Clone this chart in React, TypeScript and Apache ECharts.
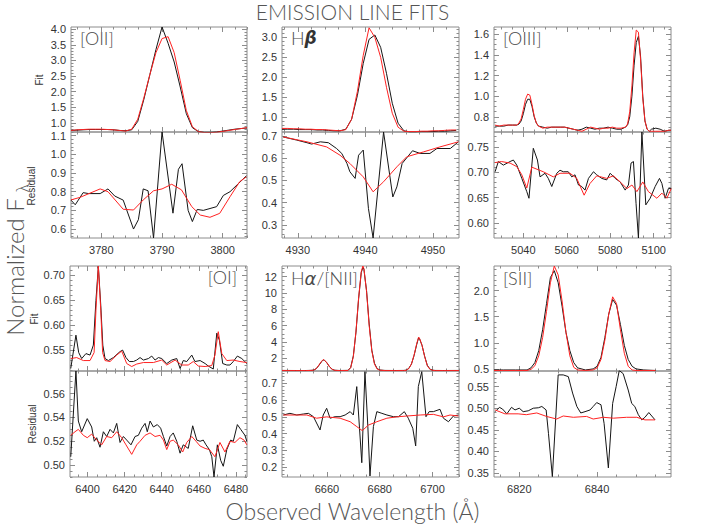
import React, { useEffect, useRef } from 'react';
import * as echarts from 'echarts';

// ---------------- DATA ----------------
// [OII]
const OII_FIT_X = [3775,3776,3777,3778,3779,3780,3781,3782,3783,3784,3785,3786,3787,3788,3789,3790,3791,3792,3793,3794,3795,3796,3797,3798,3799,3800,3801,3802,3803,3804];
const OII_FIT_OBS = [0.76,0.77,0.78,0.79,0.79,0.79,0.79,0.78,0.76,0.75,0.78,1.05,1.75,2.55,3.35,4.07,3.55,2.95,2.15,1.30,0.85,0.72,0.70,0.70,0.71,0.74,0.77,0.80,0.82,0.84];
const OII_FIT_MOD = [0.76,0.78,0.79,0.80,0.80,0.80,0.79,0.78,0.76,0.74,0.80,1.12,1.80,2.55,3.25,3.70,3.76,3.25,2.35,1.40,0.88,0.72,0.69,0.69,0.70,0.73,0.76,0.79,0.82,0.85];
const OII_RES_OBS_X = [3775.0,3775.7,3777.0,3777.9,3779.8,3781.1,3782.2,3783.6,3785.3,3786.1,3786.9,3787.7,3788.6,3790.0,3791.8,3792.7,3793.3,3794.3,3795.0,3795.8,3796.8,3799.0,3800.1,3801.2,3803.9];
const OII_RES_OBS = [0.755,0.73,0.795,0.79,0.79,0.815,0.777,0.755,0.60,0.65,0.815,0.805,0.552,1.12,0.685,0.92,0.95,0.70,0.64,0.705,0.70,0.72,0.78,0.80,0.885];
const OII_RES_MOD_X = [3775.0,3776.5,3779.8,3781.1,3783.6,3785.3,3786.9,3788.6,3790.0,3791.6,3793.2,3794.9,3796.3,3797.9,3799.5,3801.2,3802.8,3803.9];
const OII_RES_MOD = [0.756,0.77,0.815,0.80,0.706,0.702,0.756,0.805,0.815,0.84,0.81,0.72,0.675,0.663,0.684,0.773,0.854,0.88];

// Hbeta
const HB_FIT_X = [4927.66,4928.52,4929.38,4930.24,4931.10,4931.96,4932.82,4933.68,4934.53,4935.39,4936.25,4937.11,4937.97,4938.83,4939.69,4940.55,4941.41,4942.27,4943.13,4943.99,4944.85,4945.71,4946.57,4947.43,4948.29,4949.15,4950.01,4950.87,4951.73,4952.59,4953.45];
const HB_FIT_OBS = [0.70,0.70,0.70,0.69,0.69,0.69,0.68,0.68,0.67,0.66,0.66,0.70,0.95,1.55,2.35,2.95,3.06,2.75,2.10,1.35,0.85,0.66,0.63,0.63,0.64,0.64,0.64,0.65,0.65,0.66,0.67];
const HB_FIT_MOD = [0.72,0.72,0.71,0.71,0.70,0.70,0.69,0.69,0.68,0.67,0.66,0.69,0.95,1.65,2.55,3.24,3.00,2.50,1.75,1.10,0.75,0.65,0.64,0.64,0.65,0.65,0.66,0.66,0.67,0.68,0.68];
const HB_RES_OBS_X = [4927.83,4929.81,4931.36,4932.04,4933.33,4934.53,4935.74,4936.51,4937.28,4937.71,4938.49,4939.00,4939.69,4940.46,4941.15,4942.70,4944.07,4944.67,4945.45,4946.99,4948.11,4949.57,4950.60,4952.58,4953.78];
const HB_RES_OBS = [0.695,0.681,0.669,0.663,0.673,0.669,0.643,0.621,0.576,0.539,0.509,0.613,0.636,0.374,0.242,0.717,0.426,0.471,0.576,0.633,0.621,0.621,0.643,0.643,0.673];
const HB_RES_MOD_X = [4927.83,4931.36,4934.28,4936.25,4937.71,4939.69,4941.15,4942.70,4944.67,4946.13,4948.63,4951.03,4953.78];
const HB_RES_MOD = [0.695,0.673,0.65,0.613,0.576,0.516,0.449,0.494,0.561,0.606,0.628,0.65,0.673];

// [OIII]
const OIII_FIT_X = [5027,5029,5031,5033,5035,5037,5038,5039,5040,5041,5042,5043,5044,5045,5046,5047,5049,5051,5053,5055,5057,5059,5061,5063,5065,5067,5069,5071,5073,5075,5077,5079,5081,5083,5085,5087,5088,5089,5090,5091,5092,5093,5094,5095,5096,5097,5098,5099,5101,5103,5105,5107,5108];
const OIII_FIT_OBS = [0.71,0.71,0.71,0.72,0.72,0.72,0.73,0.76,0.83,0.92,0.97,0.97,0.90,0.80,0.74,0.71,0.70,0.69,0.70,0.70,0.70,0.70,0.69,0.68,0.67,0.68,0.70,0.69,0.68,0.69,0.69,0.70,0.69,0.68,0.68,0.70,0.72,0.80,1.00,1.30,1.52,1.58,1.38,1.00,0.76,0.68,0.66,0.68,0.69,0.68,0.66,0.67,0.67];
const OIII_FIT_MOD = [0.72,0.71,0.72,0.72,0.72,0.72,0.74,0.78,0.87,0.97,1.02,1.01,0.92,0.81,0.74,0.71,0.69,0.70,0.70,0.70,0.70,0.70,0.69,0.68,0.67,0.66,0.68,0.70,0.69,0.68,0.69,0.69,0.70,0.69,0.69,0.70,0.73,0.85,1.10,1.42,1.64,1.62,1.35,0.98,0.76,0.68,0.66,0.66,0.66,0.66,0.66,0.67,0.67];
const OIII_RES_OBS_X = [5027.0,5028.5,5030.8,5033.9,5035.4,5037.0,5039.3,5041.6,5042.6,5044.6,5046.5,5047.7,5050.0,5051.5,5053.1,5055.4,5056.9,5058.4,5060.7,5062.3,5063.8,5065.4,5066.9,5068.4,5070.0,5072.3,5073.8,5076.1,5078.4,5080.0,5082.3,5084.6,5086.9,5088.4,5089.6,5090.7,5091.9,5093.0,5094.6,5096.4,5098.4,5100.7,5102.7,5103.8,5105.3,5106.8,5108.1];
const OIII_RES_OBS = [0.701,0.721,0.714,0.721,0.724,0.714,0.688,0.662,0.649,0.747,0.724,0.691,0.698,0.688,0.672,0.698,0.704,0.701,0.701,0.691,0.695,0.675,0.672,0.665,0.688,0.701,0.695,0.688,0.685,0.698,0.688,0.681,0.665,0.675,0.718,0.721,0.639,0.571,0.779,0.636,0.649,0.672,0.688,0.678,0.649,0.668,0.668];
const OIII_RES_MOD_X = [5027.0,5030.0,5033.9,5037.0,5039.3,5041.6,5043.9,5049.2,5053.8,5056.9,5061.5,5064.6,5068.0,5070.7,5073.8,5078.4,5081.5,5084.6,5087.7,5090.0,5092.3,5095.0,5097.6,5101.5,5103.8,5106.1,5108.1];
const OIII_RES_MOD = [0.719,0.721,0.718,0.711,0.695,0.669,0.710,0.701,0.691,0.698,0.698,0.688,0.655,0.678,0.693,0.688,0.693,0.681,0.668,0.675,0.662,0.681,0.662,0.649,0.659,0.649,0.668];

// [OI]
const OI_FIT_OBS_X = [6390.9,6393.7,6395.2,6396.8,6399.1,6401.3,6403.1,6404.5,6405.8,6407.1,6408.2,6409.4,6411.2,6413.9,6417.5,6418.9,6420.7,6422.5,6424.7,6426.5,6428.3,6430.1,6432.8,6434.6,6436.4,6438.2,6440.0,6442.7,6445.4,6448.1,6449.9,6451.6,6453.5,6456.2,6457.9,6460.7,6463.4,6465.1,6467.8,6469.7,6471.1,6472.9,6475.1,6476.8,6478.6,6480.8,6483.2,6485.9];
const OI_FIT_OBS = [0.513,0.580,0.545,0.533,0.543,0.540,0.560,0.650,0.718,0.640,0.560,0.533,0.529,0.535,0.547,0.550,0.535,0.527,0.527,0.530,0.535,0.530,0.533,0.538,0.530,0.535,0.533,0.523,0.530,0.533,0.513,0.529,0.527,0.540,0.527,0.529,0.523,0.518,0.512,0.584,0.570,0.523,0.520,0.520,0.527,0.538,0.533,0.523];
const OI_FIT_MOD_X = [6390.9,6394.1,6397.7,6401.3,6403.5,6404.5,6405.8,6407.1,6408.1,6409.4,6412.1,6415.7,6418.4,6421.1,6423.8,6426.5,6430.1,6435.5,6440.0,6442.7,6447.2,6450.8,6454.3,6457.0,6459.7,6463.4,6467.0,6468.7,6470.5,6472.4,6475.1,6478.6,6482.2,6485.9];
const OI_FIT_MOD = [0.533,0.535,0.529,0.529,0.545,0.630,0.719,0.630,0.545,0.529,0.527,0.540,0.548,0.523,0.517,0.522,0.525,0.525,0.530,0.520,0.530,0.520,0.520,0.527,0.518,0.517,0.519,0.540,0.587,0.543,0.529,0.530,0.527,0.525];
const OI_RES_OBS_X = [6390.9,6393.7,6395.0,6396.8,6399.8,6402.2,6403.6,6404.9,6406.7,6408.5,6410.3,6412.1,6413.9,6415.7,6417.5,6419.3,6421.1,6423.4,6425.6,6427.4,6429.2,6431.0,6432.2,6433.7,6435.5,6437.6,6439.4,6440.9,6442.7,6444.5,6446.2,6448.1,6449.9,6451.6,6454.3,6456.7,6458.9,6460.7,6462.4,6463.9,6465.7,6467.0,6468.2,6470.0,6471.8,6473.2,6475.1,6477.2,6478.6,6480.8,6482.6,6484.9,6485.9];
const OI_RES_OBS = [0.507,0.579,0.537,0.528,0.539,0.532,0.520,0.523,0.515,0.528,0.524,0.530,0.527,0.535,0.519,0.524,0.521,0.517,0.524,0.525,0.531,0.535,0.528,0.537,0.532,0.534,0.531,0.524,0.516,0.524,0.527,0.520,0.510,0.517,0.514,0.533,0.521,0.520,0.521,0.517,0.513,0.507,0.490,0.517,0.504,0.499,0.513,0.521,0.520,0.534,0.530,0.525,0.520];
const OI_RES_MOD_X = [6390.9,6393.2,6395.0,6397.7,6399.8,6402.2,6404.9,6407.6,6410.3,6413.0,6415.7,6418.4,6420.7,6423.8,6426.5,6428.3,6431.0,6433.7,6436.4,6439.1,6440.9,6442.7,6444.5,6446.2,6448.9,6451.3,6453.5,6456.2,6458.5,6460.7,6463.4,6465.7,6468.7,6471.4,6474.1,6476.8,6479.5,6482.2,6484.4,6485.9];
const OI_RES_MOD = [0.525,0.528,0.530,0.525,0.523,0.526,0.521,0.517,0.524,0.523,0.528,0.523,0.517,0.509,0.517,0.520,0.525,0.527,0.524,0.525,0.521,0.513,0.520,0.521,0.517,0.511,0.519,0.524,0.520,0.516,0.514,0.513,0.507,0.519,0.511,0.520,0.519,0.523,0.521,0.517];

// Halpha / [NII]
const HA_FIT_X = [6643,6648,6652,6654,6655,6656,6657,6658,6658.6,6659,6660,6661,6662,6663,6665,6668,6669,6670,6671,6672,6673,6673.6,6674,6675,6676,6677,6678,6679,6680,6682,6686,6689,6690,6691,6692,6693,6694,6694.7,6695,6696,6697,6698,6699,6700,6701,6704,6710];
const HA_FIT_OBS = [0.52,0.51,0.51,0.53,0.56,0.74,1.15,1.6,1.8,1.78,1.45,0.97,0.66,0.54,0.51,0.53,0.88,2.3,5.2,9.3,12.5,13.1,12.9,10.3,6.2,3.0,1.4,0.75,0.57,0.52,0.51,0.52,0.55,0.77,1.3,2.35,3.7,4.5,4.45,3.6,2.25,1.15,0.68,0.55,0.52,0.51,0.52];
const HA_FIT_MOD = [0.50,0.50,0.50,0.52,0.55,0.75,1.2,1.65,1.85,1.8,1.45,0.95,0.65,0.53,0.50,0.51,0.85,2.2,5.3,9.4,12.6,13.3,13.0,10.2,6.0,2.9,1.3,0.7,0.55,0.50,0.50,0.50,0.53,0.75,1.3,2.4,3.8,4.6,4.5,3.6,2.2,1.1,0.65,0.53,0.50,0.50,0.50];
const HA_RES_OBS_X = [6643.5,6646.0,6648.6,6651.1,6653.0,6654.9,6657.4,6658.6,6659.9,6661.2,6663.1,6665.0,6666.9,6668.8,6670.0,6671.3,6673.2,6674.4,6675.5,6676.3,6677.6,6678.9,6680.8,6682.7,6685.2,6687.1,6689.3,6690.8,6692.5,6693.6,6694.6,6695.9,6697.5,6698.7,6700.3,6702.8,6704.1,6706.0,6707.9,6709.8];
const HA_RES_OBS = [0.511,0.521,0.511,0.517,0.521,0.501,0.422,0.511,0.551,0.492,0.501,0.501,0.511,0.531,0.511,0.68,0.227,0.769,0.442,0.148,0.442,0.531,0.521,0.511,0.501,0.501,0.531,0.492,0.432,0.327,0.68,0.769,0.501,0.531,0.531,0.545,0.492,0.471,0.505,0.511];
const HA_RES_MOD_X = [6643.5,6652.4,6656.1,6659.9,6665.0,6668.8,6671.3,6673.4,6675.7,6678.9,6682.7,6686.4,6690.2,6695.3,6700.3,6704.1,6706.6,6709.8];
const HA_RES_MOD = [0.511,0.511,0.492,0.50,0.492,0.471,0.442,0.418,0.451,0.471,0.492,0.50,0.505,0.511,0.515,0.50,0.511,0.505];

// [SII]
const SII_FIT_X = [6813.5,6816,6819,6822,6823,6824,6825,6826,6827,6828,6829,6830,6831,6832,6833,6834,6835,6837,6839,6840,6841,6842,6843,6844,6845,6846,6847,6848,6849,6850,6852,6855];
const SII_FIT_OBS = [0.48,0.48,0.48,0.48,0.52,0.62,0.85,1.25,1.75,2.25,2.38,2.15,1.7,1.2,0.85,0.62,0.52,0.48,0.50,0.55,0.72,1.1,1.55,1.83,1.72,1.35,0.95,0.68,0.55,0.50,0.48,0.47];
const SII_FIT_MOD = [0.47,0.47,0.47,0.47,0.49,0.56,0.75,1.1,1.6,2.15,2.47,2.3,1.8,1.2,0.75,0.53,0.48,0.47,0.48,0.52,0.68,1.05,1.55,1.88,1.75,1.25,0.80,0.55,0.48,0.47,0.47,0.47];
const SII_RES_OBS_X = [6813.8,6814.9,6815.7,6816.8,6818.0,6818.9,6820.0,6821.0,6822.3,6823.6,6824.9,6825.8,6826.9,6827.5,6828.5,6830.0,6831.3,6832.6,6833.7,6834.8,6835.8,6836.9,6838.2,6839.0,6839.9,6841.0,6841.8,6842.9,6844.0,6844.9,6845.7,6846.7,6848.0,6848.9,6849.7,6850.6,6851.5,6852.3,6853.3,6854.9];
const SII_RES_OBS = [0.492,0.502,0.498,0.487,0.502,0.496,0.50,0.492,0.494,0.50,0.501,0.504,0.496,0.442,0.342,0.577,0.577,0.573,0.535,0.504,0.489,0.492,0.496,0.504,0.513,0.508,0.465,0.362,0.511,0.55,0.587,0.58,0.542,0.511,0.504,0.485,0.473,0.479,0.49,0.473];
const SII_RES_MOD_X = [6813.8,6816.3,6819.7,6821.8,6824.5,6827.0,6829.6,6831.3,6833.9,6837.3,6839.0,6841.6,6844.2,6847.6,6850.2,6852.3,6854.9];
const SII_RES_MOD = [0.496,0.487,0.487,0.485,0.489,0.481,0.475,0.482,0.479,0.481,0.475,0.479,0.477,0.479,0.479,0.473,0.473];

// Tick labels
const OII_X_TICKS = [3780, 3790, 3800];
const OII_FIT_TICKS = [1.0, 1.5, 2.0, 2.5, 3.0, 3.5, 4.0];
const OII_RES_TICKS = [0.6, 0.7, 0.8, 0.9, 1.0, 1.1];
const HB_X_TICKS = [4930, 4940, 4950];
const HB_FIT_TICKS = [1.0, 1.5, 2.0, 2.5, 3.0];
const HB_RES_TICKS = [0.3, 0.4, 0.5, 0.6, 0.7];
const OIII_X_TICKS = [5040, 5060, 5080, 5100];
const OIII_FIT_TICKS = [0.8, 1.0, 1.2, 1.4, 1.6];
const OIII_RES_TICKS = [0.60, 0.65, 0.70, 0.75];
const OI_X_TICKS = [6400, 6420, 6440, 6460, 6480];
const OI_FIT_TICKS = [0.55, 0.60, 0.65, 0.70];
const OI_RES_TICKS = [0.50, 0.52, 0.54, 0.56];
const HA_X_TICKS = [6660, 6680, 6700];
const HA_FIT_TICKS = [2, 4, 6, 8, 10, 12];
const HA_RES_TICKS = [0.2, 0.3, 0.4, 0.5, 0.6, 0.7];
const SII_X_TICKS = [6820, 6840];
const SII_FIT_TICKS = [0.5, 1.0, 1.5, 2.0];
const SII_RES_TICKS = [0.35, 0.40, 0.45, 0.50, 0.55];

// ---------------- STYLE ----------------
const FRAME = '#8c8c8c';
const TICK_TEXT = '#333';
const OBS_COLOR = '#151515';
const MOD_COLOR = '#ff2222';
const LABEL_COLOR = '#4a4a4a';
const TICK_FONT = '"Liberation Sans", Arial, sans-serif';
const TITLE_FONT = 'Lato, "Open Sans", "DejaVu Sans", sans-serif';

type Panel = {
  left: number; width: number; fitTop: number; fitH: number; resTop: number; resH: number;
  xMin: number; xMax: number; xTicks: number[]; xMinor: number;
  fitMin: number; fitMax: number; fitTicks: number[]; fitMinor: number; fitDec: number;
  resMin: number; resMax: number; resTicks: number[]; resMinor: number; resDec: number;
  fitObs: [number[], number[]]; fitMod: [number[], number[]];
  resObs: [number[], number[]]; resMod: [number[], number[]];
};

const TOP = { fitTop: 27, fitH: 105, resTop: 132, resH: 106 };
const BOT = { fitTop: 266, fitH: 105, resTop: 371, resH: 106 };

const PANELS: Panel[] = [
  { left: 71, width: 176, ...TOP, xMin: 3775, xMax: 3804, xTicks: OII_X_TICKS, xMinor: 2,
    fitMin: 0.71, fitMax: 4.07, fitTicks: OII_FIT_TICKS, fitMinor: 0.1, fitDec: 1,
    resMin: 0.552, resMax: 1.12, resTicks: OII_RES_TICKS, resMinor: 0.02, resDec: 1,
    fitObs: [OII_FIT_X, OII_FIT_OBS], fitMod: [OII_FIT_X, OII_FIT_MOD],
    resObs: [OII_RES_OBS_X, OII_RES_OBS], resMod: [OII_RES_MOD_X, OII_RES_MOD] },
  { left: 282, width: 177, ...TOP, xMin: 4927.66, xMax: 4953.87, xTicks: HB_X_TICKS, xMinor: 2,
    fitMin: 0.63, fitMax: 3.26, fitTicks: HB_FIT_TICKS, fitMinor: 0.1, fitDec: 1,
    resMin: 0.242, resMax: 0.717, resTicks: HB_RES_TICKS, resMinor: 0.02, resDec: 1,
    fitObs: [HB_FIT_X, HB_FIT_OBS], fitMod: [HB_FIT_X, HB_FIT_MOD],
    resObs: [HB_RES_OBS_X, HB_RES_OBS], resMod: [HB_RES_MOD_X, HB_RES_MOD] },
  { left: 494, width: 177, ...TOP, xMin: 5026.5, xMax: 5108, xTicks: OIII_X_TICKS, xMinor: 5,
    fitMin: 0.653, fitMax: 1.67, fitTicks: OIII_FIT_TICKS, fitMinor: 0.05, fitDec: 1,
    resMin: 0.571, resMax: 0.779, resTicks: OIII_RES_TICKS, resMinor: 0.01, resDec: 2,
    fitObs: [OIII_FIT_X, OIII_FIT_OBS], fitMod: [OIII_FIT_X, OIII_FIT_MOD],
    resObs: [OIII_RES_OBS_X, OIII_RES_OBS], resMod: [OIII_RES_MOD_X, OIII_RES_MOD] },
  { left: 70, width: 177, ...BOT, xMin: 6390.5, xMax: 6486, xTicks: OI_X_TICKS, xMinor: 5,
    fitMin: 0.508, fitMax: 0.719, fitTicks: OI_FIT_TICKS, fitMinor: 0.01, fitDec: 2,
    resMin: 0.490, resMax: 0.579, resTicks: OI_RES_TICKS, resMinor: 0.005, resDec: 2,
    fitObs: [OI_FIT_OBS_X, OI_FIT_OBS], fitMod: [OI_FIT_MOD_X, OI_FIT_MOD],
    resObs: [OI_RES_OBS_X, OI_RES_OBS], resMod: [OI_RES_MOD_X, OI_RES_MOD] },
  { left: 282, width: 177, ...BOT, xMin: 6643, xMax: 6710, xTicks: HA_X_TICKS, xMinor: 5,
    fitMin: 0.45, fitMax: 13.3, fitTicks: HA_FIT_TICKS, fitMinor: 0.5, fitDec: 0,
    resMin: 0.142, resMax: 0.773, resTicks: HA_RES_TICKS, resMinor: 0.02, resDec: 1,
    fitObs: [HA_FIT_X, HA_FIT_OBS], fitMod: [HA_FIT_X, HA_FIT_MOD],
    resObs: [HA_RES_OBS_X, HA_RES_OBS], resMod: [HA_RES_MOD_X, HA_RES_MOD] },
  { left: 494, width: 177, ...BOT, xMin: 6813.5, xMax: 6859, xTicks: SII_X_TICKS, xMinor: 5,
    fitMin: 0.46, fitMax: 2.47, fitTicks: SII_FIT_TICKS, fitMinor: 0.1, fitDec: 1,
    resMin: 0.341, resMax: 0.586, resTicks: SII_RES_TICKS, resMinor: 0.01, resDec: 2,
    fitObs: [SII_FIT_X, SII_FIT_OBS], fitMod: [SII_FIT_X, SII_FIT_MOD],
    resObs: [SII_RES_OBS_X, SII_RES_OBS], resMod: [SII_RES_MOD_X, SII_RES_MOD] },
];

function pairs(xs: number[], ys: number[]) {
  return xs.map((x, i) => [x, ys[i]]);
}

function minorValues(min: number, max: number, step: number, major: number[]) {
  const out: number[] = [];
  const s = Math.ceil(min / step - 1e-9);
  const e = Math.floor(max / step + 1e-9);
  for (let i = s; i <= e; i++) {
    const v = +(i * step).toFixed(6);
    if (!major.some((m) => Math.abs(m - v) < 1e-7)) out.push(v);
  }
  return out;
}

function axesFor(dim: 'x' | 'y', gridIndex: number, min: number, max: number,
  major: number[], minorStep: number, dec: number, labels: boolean) {
  const minor = minorValues(min, max, minorStep, major);
  const posA = dim === 'x' ? 'bottom' : 'left';
  const posB = dim === 'x' ? 'top' : 'right';
  const mk = (position: string, ticks: number[], len: number, showLabels: boolean) => ({
    type: 'value', gridIndex, min, max, position, silent: true,
    splitLine: { show: false },
    axisLine: { show: false, onZero: false },
    axisTick: { show: true, inside: true, length: len, customValues: ticks,
      lineStyle: { color: FRAME, width: 1 } },
    axisLabel: showLabels ? {
      show: true, customValues: major, margin: dim === 'x' ? 6 : 5,
      color: TICK_TEXT, fontSize: 11, fontFamily: TICK_FONT,
      formatter: (v: number) => v.toFixed(dec),
    } : { show: false },
  });
  return [mk(posA, major, 5, labels), mk(posA, minor, 2.5, false), mk(posB, major, 5, false), mk(posB, minor, 2.5, false)];
}

function buildOption() {
  const grid: any[] = [];
  const xAxis: any[] = [];
  const yAxis: any[] = [];
  const series: any[] = [];
  PANELS.forEach((p, pi) => {
    const subs = [
      { top: p.fitTop, h: p.fitH, yMin: p.fitMin, yMax: p.fitMax, yTicks: p.fitTicks, yMinor: p.fitMinor, yDec: p.fitDec, xLabels: false, obs: p.fitObs, mod: p.fitMod },
      { top: p.resTop, h: p.resH, yMin: p.resMin, yMax: p.resMax, yTicks: p.resTicks, yMinor: p.resMinor, yDec: p.resDec, xLabels: true, obs: p.resObs, mod: p.resMod },
    ];
    subs.forEach((s, si) => {
      const g = pi * 2 + si;
      grid.push({ left: p.left, top: s.top, width: p.width, height: s.h, show: true,
        borderColor: FRAME, borderWidth: 1, backgroundColor: 'transparent',
        containLabel: false, outerBoundsMode: 'none' });
      xAxis.push(...axesFor('x', g, p.xMin, p.xMax, p.xTicks, p.xMinor, 0, s.xLabels));
      yAxis.push(...axesFor('y', g, s.yMin, s.yMax, s.yTicks, s.yMinor, s.yDec, true));
      const ax = g * 4;
      series.push({ type: 'line', xAxisIndex: ax, yAxisIndex: ax, data: pairs(s.obs[0], s.obs[1]),
        showSymbol: false, symbol: 'none', clip: true, silent: true,
        lineStyle: { color: OBS_COLOR, width: 1 }, z: 2 });
      series.push({ type: 'line', xAxisIndex: ax, yAxisIndex: ax, data: pairs(s.mod[0], s.mod[1]),
        showSymbol: false, symbol: 'none', clip: true, silent: true,
        lineStyle: { color: MOD_COLOR, width: 1 }, z: 3 });
    });
  });

  const txt = (x: number, y: number, text: string, size: number, extra: any = {}) => ({
    type: 'text', x, y, silent: true, ...extra,
    style: { text, fontSize: size, fontFamily: TITLE_FONT, fontWeight: 300, fill: LABEL_COLOR,
      textAlign: 'left', textVerticalAlign: 'middle', ...(extra.style || {}) },
  });
  const small = { fill: '#333', fontFamily: TICK_FONT, fontWeight: 'normal', textAlign: 'center' };

  const graphic: any[] = [
    txt(352.5, 11.5, 'EMISSION LINE FITS', 21, { style: { textAlign: 'center', textVerticalAlign: 'middle', lineHeight: 22, fill: '#555' } }),
    txt(352.5, 511, 'Observed Wavelength (\u00c5)', 23, { style: { textAlign: 'center', fill: '#555' } }),
    txt(14, 267, 'Normalized F', 24, { rotation: Math.PI / 2, style: { textAlign: 'center', fill: '#555' } }),
    txt(22, 188, '\u03bb', 17, { rotation: Math.PI / 2, style: { textAlign: 'center', fill: '#555' } }),
    // Fit / Residual
    txt(39, 80, 'Fit', 10, { rotation: Math.PI / 2, style: small }),
    txt(31, 186, 'Residual', 10, { rotation: Math.PI / 2, style: small }),
    txt(34.5, 319, 'Fit', 10, { rotation: Math.PI / 2, style: small }),
    txt(32, 424, 'Residual', 10, { rotation: Math.PI / 2, style: small }),
    // panel labels
    txt(80, 38, '[OII]', 18),
    {
      type: 'text', x: 291, y: 37.5, silent: true,
      style: {
        text: '{h|H}{b|\u03b2}', textVerticalAlign: 'middle', textAlign: 'left',
        rich: {
          h: { fontSize: 18, fontFamily: TITLE_FONT, fontWeight: 300, fill: LABEL_COLOR },
          b: { fontSize: 17, fontFamily: '"DejaVu Sans", sans-serif', fontWeight: 'bold', fontStyle: 'italic', fill: '#333' },
        },
      },
    },
    txt(503, 38, '[OIII]', 18),
    txt(237, 277, '[OI]', 18, { style: { textAlign: 'right' } }),
    {
      type: 'text', x: 291, y: 278, silent: true,
      style: {
        text: '{h|H}{a|\u03b1}{h|/[NII]}', textVerticalAlign: 'middle', textAlign: 'left',
        rich: {
          h: { fontSize: 18, fontFamily: TITLE_FONT, fontWeight: 300, fill: LABEL_COLOR },
          a: { fontSize: 18, fontFamily: '"DejaVu Sans", sans-serif', fontStyle: 'italic', fill: LABEL_COLOR },
        },
      },
    },
    txt(503, 278, '[SII]', 18),
  ];

  return { animation: false, backgroundColor: '#fff', grid, xAxis, yAxis, series, graphic };
}

export default function App() {
  const ref = useRef<HTMLDivElement>(null);
  useEffect(() => {
    if (!ref.current) return;
    const chart = echarts.init(ref.current, null, { renderer: 'svg' });
    chart.setOption(buildOption() as any);
    return () => chart.dispose();
  }, []);
  return <div ref={ref} style={{ position: 'absolute', left: 0, top: 0, width: 706, height: 530 }} />;
}
